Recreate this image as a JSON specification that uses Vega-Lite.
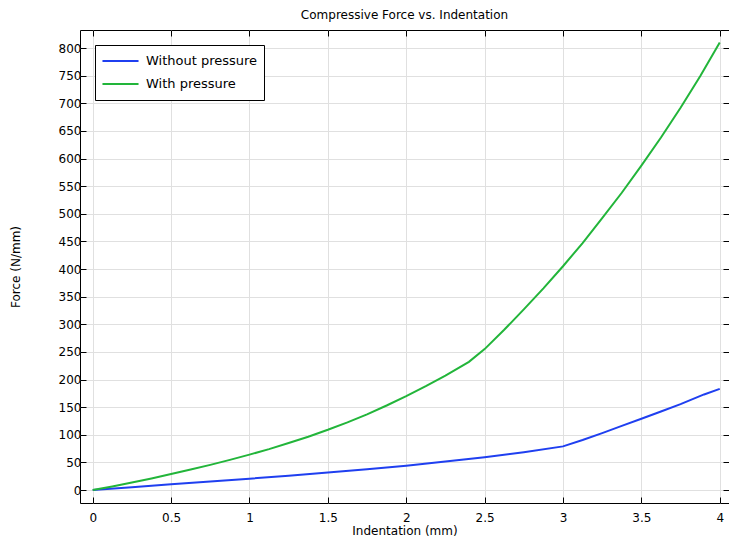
{
  "$schema": "https://vega.github.io/schema/vega-lite/v6.json",
  "width": 649,
  "height": 473,
  "autosize": "none",
  "padding": {"left": 80, "top": 30, "right": 0, "bottom": 37},
  "background": "white",
  "config": {
    "font": "DejaVu Sans",
    "view": {"stroke": "black", "strokeWidth": 1},
    "axis": {
      "grid": true,
      "gridColor": "#e0e0e0",
      "gridWidth": 1,
      "domain": false,
      "tickColor": "black",
      "tickSize": -6,
      "labelFont": "DejaVu Sans",
      "labelFontSize": 12,
      "labelColor": "black",
      "titleFont": "DejaVu Sans",
      "titleFontSize": 12,
      "titleFontWeight": "normal",
      "titleColor": "black"
    }
  },
  "title": {
    "text": "Compressive Force vs. Indentation",
    "fontSize": 12,
    "fontWeight": "normal",
    "font": "DejaVu Sans",
    "color": "black",
    "offset": 8
  },
  "data": {
    "values": [
      {"x": 0, "y": 0, "s": "Without pressure"},
      {"x": 0.25, "y": 5, "s": "Without pressure"},
      {"x": 0.5, "y": 10.5, "s": "Without pressure"},
      {"x": 0.75, "y": 15.5, "s": "Without pressure"},
      {"x": 1, "y": 20.5, "s": "Without pressure"},
      {"x": 1.25, "y": 26, "s": "Without pressure"},
      {"x": 1.5, "y": 31.5, "s": "Without pressure"},
      {"x": 1.75, "y": 37.5, "s": "Without pressure"},
      {"x": 2, "y": 44, "s": "Without pressure"},
      {"x": 2.25, "y": 51.5, "s": "Without pressure"},
      {"x": 2.5, "y": 59.5, "s": "Without pressure"},
      {"x": 2.75, "y": 68.5, "s": "Without pressure"},
      {"x": 3, "y": 79, "s": "Without pressure"},
      {"x": 3.125, "y": 90.5, "s": "Without pressure"},
      {"x": 3.25, "y": 103, "s": "Without pressure"},
      {"x": 3.375, "y": 116, "s": "Without pressure"},
      {"x": 3.5, "y": 129, "s": "Without pressure"},
      {"x": 3.625, "y": 142, "s": "Without pressure"},
      {"x": 3.75, "y": 155.5, "s": "Without pressure"},
      {"x": 3.9, "y": 173, "s": "Without pressure"},
      {"x": 4, "y": 183, "s": "Without pressure"},
      {"x": 0, "y": 0, "s": "With pressure"},
      {"x": 0.125, "y": 6.5, "s": "With pressure"},
      {"x": 0.25, "y": 13.5, "s": "With pressure"},
      {"x": 0.375, "y": 21, "s": "With pressure"},
      {"x": 0.5, "y": 29, "s": "With pressure"},
      {"x": 0.625, "y": 37, "s": "With pressure"},
      {"x": 0.75, "y": 45.5, "s": "With pressure"},
      {"x": 0.875, "y": 54.5, "s": "With pressure"},
      {"x": 1, "y": 64, "s": "With pressure"},
      {"x": 1.125, "y": 74, "s": "With pressure"},
      {"x": 1.25, "y": 85, "s": "With pressure"},
      {"x": 1.375, "y": 96.5, "s": "With pressure"},
      {"x": 1.5, "y": 109, "s": "With pressure"},
      {"x": 1.625, "y": 122.5, "s": "With pressure"},
      {"x": 1.75, "y": 137, "s": "With pressure"},
      {"x": 1.875, "y": 153, "s": "With pressure"},
      {"x": 2, "y": 170, "s": "With pressure"},
      {"x": 2.125, "y": 188, "s": "With pressure"},
      {"x": 2.25, "y": 207, "s": "With pressure"},
      {"x": 2.4, "y": 232, "s": "With pressure"},
      {"x": 2.5, "y": 255, "s": "With pressure"},
      {"x": 2.625, "y": 290, "s": "With pressure"},
      {"x": 2.75, "y": 327, "s": "With pressure"},
      {"x": 2.875, "y": 365, "s": "With pressure"},
      {"x": 3, "y": 405, "s": "With pressure"},
      {"x": 3.125, "y": 447, "s": "With pressure"},
      {"x": 3.25, "y": 492, "s": "With pressure"},
      {"x": 3.375, "y": 538, "s": "With pressure"},
      {"x": 3.5, "y": 587, "s": "With pressure"},
      {"x": 3.625, "y": 638, "s": "With pressure"},
      {"x": 3.75, "y": 692, "s": "With pressure"},
      {"x": 3.875, "y": 749, "s": "With pressure"},
      {"x": 4, "y": 810, "s": "With pressure"}
    ]
  },
  "layer": [
    {
      "mark": {"type": "line", "strokeWidth": 2, "clip": true},
      "encoding": {
        "x": {
          "field": "x", "type": "quantitative",
          "scale": {"domain": [-0.081, 4.059], "nice": false, "zero": false},
          "axis": {"orient": "bottom", "values": [0, 0.5, 1, 1.5, 2, 2.5, 3, 3.5, 4], "format": "~g", "title": "Indentation (mm)", "labelPadding": 15, "titlePadding": 2, "labelFlush": false}
        },
        "y": {
          "field": "y", "type": "quantitative",
          "scale": {"domain": [-23.5, 832.6], "nice": false, "zero": false},
          "axis": {"orient": "left", "values": [0, 50, 100, 150, 200, 250, 300, 350, 400, 450, 500, 550, 600, 650, 700, 750, 800], "title": "Force (N/mm)", "labelPadding": 5, "titlePadding": 36, "labelFlush": false}
        },
        "color": {
          "field": "s", "type": "nominal",
          "scale": {"domain": ["Without pressure", "With pressure"], "range": ["#1f3ff0", "#22b53a"]},
          "legend": {
            "title": null,
            "orient": "none",
            "legendX": 15,
            "legendY": 15,
            "symbolType": "stroke",
            "symbolSize": 1300,
            "symbolStrokeWidth": 2,
            "clipHeight": 20,
            "rowPadding": 3,
            "labelFontSize": 13,
            "labelFont": "DejaVu Sans",
            "labelColor": "black",
            "labelOffset": 6,
            "padding": 6,
            "strokeColor": "black",
            "fillColor": "white",
            "cornerRadius": 0
          }
        }
      }
    },
    {
      "mark": {"type": "line", "strokeOpacity": 0},
      "encoding": {
        "x": {
          "field": "x", "type": "quantitative",
          "scale": {"domain": [-0.081, 4.059], "nice": false, "zero": false},
          "axis": {"orient": "top", "values": [0, 0.5, 1, 1.5, 2, 2.5, 3, 3.5, 4], "labels": false, "grid": false, "title": null}
        },
        "y": {
          "field": "y", "type": "quantitative",
          "scale": {"domain": [-23.5, 832.6], "nice": false, "zero": false},
          "axis": {"orient": "right", "values": [0, 50, 100, 150, 200, 250, 300, 350, 400, 450, 500, 550, 600, 650, 700, 750, 800], "labels": false, "grid": false, "title": null}
        },
        "detail": {"field": "s"}
      }
    }
  ],
  "resolve": {"axis": {"x": "independent", "y": "independent"}}
}
